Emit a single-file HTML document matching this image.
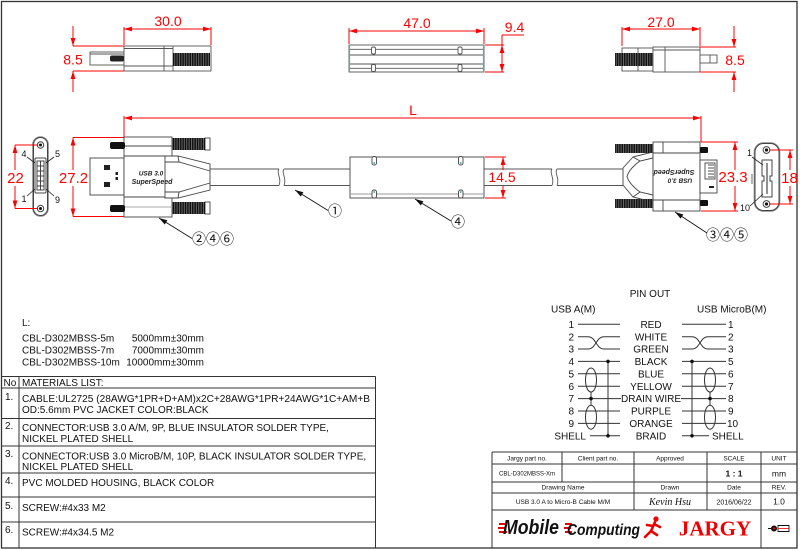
<!DOCTYPE html>
<html><head><meta charset="utf-8"><style>
html,body{margin:0;padding:0;background:#fff;}
svg{display:block;}
text{font-family:"Liberation Sans",Arial,sans-serif;}
.r{fill:#f00;font-size:14px;}
.c{font-family:"Liberation Sans","Noto Sans CJK JP",sans-serif;font-size:14px;fill:#111;}
</style></head><body>
<svg width="800" height="550" viewBox="0 0 800 550" xmlns="http://www.w3.org/2000/svg">
<defs>
<marker id="ar" viewBox="0 0 10 6" refX="10" refY="3" markerWidth="8" markerHeight="5" markerUnits="userSpaceOnUse" orient="auto-start-reverse"><path d="M0,0L10,3L0,6z" fill="#f00"/></marker>
<marker id="ak" viewBox="0 0 10 6" refX="10" refY="3" markerWidth="9" markerHeight="5" markerUnits="userSpaceOnUse" orient="auto"><path d="M0,0L10,3L0,6z" fill="#111"/></marker>
<pattern id="th" width="2.4" height="20" patternUnits="userSpaceOnUse"><rect width="2.4" height="20" fill="#111"/><rect x="1.6" width="0.6" height="20" fill="#999"/></pattern>
</defs>
<rect width="800" height="550" fill="#fff"/>
<rect x="1.5" y="1.5" width="795.5" height="546.5" fill="none" stroke="#333" stroke-width="1.3"/>

<!-- ============ TOP LEFT VIEW ============ -->
<g stroke="#555" stroke-width="0.9" fill="#fff">
<rect x="90" y="52" width="34" height="13"/>
<line x1="90" y1="54" x2="124" y2="54"/>
<rect x="124" y="46" width="87" height="25"/>
<line x1="124" y1="48.5" x2="173" y2="48.5"/>
<line x1="124" y1="66" x2="173" y2="66"/>
<line x1="164" y1="46" x2="164" y2="71"/>
<line x1="173" y1="46" x2="173" y2="71"/>
</g>
<rect x="110" y="55.5" width="14" height="6" rx="2" fill="#222"/>
<rect x="173" y="53" width="37" height="13" fill="url(#th)"/>
<g stroke="#f00" stroke-width="1" fill="none">
<line x1="124" y1="27" x2="124" y2="45"/>
<line x1="211" y1="27" x2="211" y2="45"/>
<line x1="124" y1="29" x2="211" y2="29" marker-start="url(#ar)" marker-end="url(#ar)"/>
<line x1="73" y1="46" x2="124" y2="46"/>
<line x1="73" y1="71" x2="124" y2="71"/>
<line x1="73" y1="26" x2="73" y2="46" marker-end="url(#ar)"/>
<line x1="73" y1="92" x2="73" y2="71" marker-end="url(#ar)"/>
</g>
<text class="r" x="168" y="26" text-anchor="middle">30.0</text>
<text class="r" x="73" y="64.5" text-anchor="middle">8.5</text>

<!-- ============ TOP MIDDLE VIEW ============ -->
<g stroke="#555" stroke-width="0.9" fill="#fff">
<rect x="349" y="45" width="135" height="27"/>
<line x1="349" y1="49.3" x2="484" y2="49.3"/>
<line x1="349" y1="55" x2="484" y2="55"/>
<line x1="349" y1="64" x2="484" y2="64"/>
<line x1="349" y1="68.3" x2="484" y2="68.3"/>
<rect x="371.5" y="47" width="4" height="7" rx="1.5"/>
<rect x="458" y="47" width="4" height="7" rx="1.5"/>
<rect x="371.5" y="64.5" width="4" height="7" rx="1.5"/>
<rect x="458" y="64.5" width="4" height="7" rx="1.5"/>
</g>
<line x1="349.5" y1="45" x2="349.5" y2="72" stroke="#5aa" stroke-width="1.2"/>
<line x1="483.5" y1="45" x2="483.5" y2="72" stroke="#5aa" stroke-width="1.2"/>
<g stroke="#f00" stroke-width="1" fill="none">
<line x1="349" y1="28" x2="349" y2="44"/>
<line x1="484" y1="28" x2="484" y2="44"/>
<line x1="349" y1="31" x2="484" y2="31" marker-start="url(#ar)" marker-end="url(#ar)"/>
<line x1="485" y1="45" x2="504" y2="45"/>
<line x1="485" y1="72" x2="504" y2="72"/>
<line x1="502" y1="35" x2="502" y2="45"/>
<line x1="502" y1="45" x2="502" y2="72" marker-start="url(#ar)" marker-end="url(#ar)"/>
<line x1="502" y1="35" x2="524" y2="35"/>
</g>
<text class="r" x="417" y="28" text-anchor="middle">47.0</text>
<text class="r" x="514.5" y="32" text-anchor="middle">9.4</text>

<!-- ============ TOP RIGHT VIEW ============ -->
<g stroke="#555" stroke-width="0.9" fill="#fff">
<rect x="622" y="48" width="31" height="23"/>
<line x1="638" y1="48" x2="638" y2="71"/>
<rect x="653" y="47" width="47" height="25"/>
<line x1="665" y1="47" x2="665" y2="72"/>
<line x1="653" y1="50" x2="700" y2="50"/>
<rect x="700" y="55" width="17" height="8"/>
<line x1="710" y1="55" x2="710" y2="63"/>
</g>
<rect x="615" y="53" width="38" height="13" fill="url(#th)"/>
<g stroke="#f00" stroke-width="1" fill="none">
<line x1="622" y1="27" x2="622" y2="46"/>
<line x1="700" y1="27" x2="700" y2="46"/>
<line x1="622" y1="29" x2="700" y2="29" marker-start="url(#ar)" marker-end="url(#ar)"/>
<line x1="700" y1="47" x2="736" y2="47"/>
<line x1="700" y1="72" x2="736" y2="72"/>
<line x1="734" y1="26" x2="734" y2="47" marker-end="url(#ar)"/>
<line x1="734" y1="92" x2="734" y2="72" marker-end="url(#ar)"/>
</g>
<text class="r" x="661" y="27" text-anchor="middle">27.0</text>
<text class="r" x="735" y="65" text-anchor="middle">8.5</text>

<!-- ============ L DIMENSION ============ -->
<g stroke="#f00" stroke-width="1" fill="none">
<line x1="124" y1="118" x2="701" y2="118" marker-start="url(#ar)" marker-end="url(#ar)"/>
<line x1="124" y1="116" x2="124" y2="137"/>
<line x1="701" y1="116" x2="701" y2="142"/>
</g>
<text class="r" x="413" y="115" text-anchor="middle">L</text>

<!-- ============ LEFT END VIEW (USB A) ============ -->
<g stroke="#444" stroke-width="1" fill="#fff">
<rect x="33" y="137" width="15" height="79" rx="7.5" stroke="#888" stroke-width="1.6"/>
<rect x="33.5" y="137.5" width="14" height="78" rx="7"/>
<circle cx="40.5" cy="145" r="3.2"/>
<circle cx="40.5" cy="208.5" r="3.2"/>
<rect x="35" y="158" width="11" height="35" rx="1"/>
<rect x="37" y="161" width="7" height="29"/>
<line x1="37" y1="166" x2="44" y2="166"/>
<line x1="37" y1="171" x2="44" y2="171"/>
<line x1="37" y1="176" x2="44" y2="176"/>
<line x1="37" y1="181" x2="44" y2="181"/>
<line x1="37" y1="186" x2="44" y2="186"/>
<line x1="40.5" y1="161" x2="40.5" y2="190"/>
</g>
<circle cx="40.5" cy="145" r="1.5" fill="#111"/>
<circle cx="40.5" cy="208.5" r="1.5" fill="#111"/>
<g stroke="#222" stroke-width="0.8">
<line x1="27" y1="157" x2="35" y2="163"/>
<line x1="54" y1="157" x2="46" y2="163"/>
<line x1="27" y1="196" x2="35" y2="189"/>
<line x1="54" y1="196" x2="46" y2="189"/>
</g>
<g font-size="9" fill="#111">
<text x="21.5" y="157">4</text>
<text x="55" y="157">5</text>
<text x="21.5" y="202">1</text>
<text x="55" y="203">9</text>
</g>
<g stroke="#f00" stroke-width="1" fill="none">
<line x1="15" y1="145" x2="38" y2="145"/>
<line x1="15" y1="208.5" x2="38" y2="208.5"/>
<line x1="15" y1="170" x2="15" y2="145" marker-end="url(#ar)"/>
<line x1="15" y1="186" x2="15" y2="208.5" marker-end="url(#ar)"/>
<line x1="73" y1="137.5" x2="124" y2="137.5"/>
<line x1="73" y1="216.5" x2="124" y2="216.5"/>
<line x1="73" y1="170" x2="73" y2="137.5" marker-end="url(#ar)"/>
<line x1="73" y1="186" x2="73" y2="216.5" marker-end="url(#ar)"/>
</g>
<text class="r" x="15.5" y="183" text-anchor="middle" font-size="15" style="font-size:15px">22</text>
<text class="r" x="73.5" y="183" text-anchor="middle" style="font-size:15px">27.2</text>

<!-- ============ LEFT CONNECTOR ============ -->
<g stroke="#444" stroke-width="0.9" fill="#fff">
<rect x="90" y="158" width="34" height="37"/>
<rect x="124" y="137" width="48" height="80"/>
<line x1="124" y1="146" x2="172" y2="146"/>
<line x1="124" y1="156" x2="172" y2="156"/>
<line x1="124" y1="197" x2="172" y2="197"/>
<line x1="124" y1="207" x2="172" y2="207" stroke="#aaa"/>
<polygon points="165,156 178,156 210,164 210,190 178,198 165,198"/>
<path d="M165,162 L179,162 L210,171 M165,192 L179,192 L210,183" fill="none"/>
<line x1="178" y1="156" x2="179" y2="162"/>
<line x1="178" y1="198" x2="179" y2="192"/>
<rect x="205" y="138" width="5" height="12" />
<rect x="205" y="202" width="5" height="12" />
</g>
<rect x="124.5" y="162.5" width="40" height="29" fill="#fff"/>
<rect x="172" y="138" width="33" height="12" fill="url(#th)"/>
<rect x="172" y="202" width="33" height="12" fill="url(#th)"/>
<rect x="110" y="142" width="15" height="7" rx="2" fill="#111"/>
<rect x="110" y="205" width="15" height="7" rx="2" fill="#111"/>
<rect x="104" y="165" width="6" height="5" fill="#222"/>
<rect x="104" y="182" width="6" height="5" fill="#222"/>
<rect x="115.5" y="172" width="2.5" height="3" fill="#222"/>
<rect x="115.5" y="177" width="2.5" height="3" fill="#222"/>
<text x="151" y="175.5" font-size="6.5" font-weight="bold" font-style="italic" fill="#222" text-anchor="middle">USB 3.0</text>
<text x="152" y="184" font-size="7" font-weight="bold" font-style="italic" fill="#222" text-anchor="middle">SuperSpeed</text>

<!-- ============ CABLE ============ -->
<g stroke="#555" stroke-width="0.9" fill="none">
<path d="M210,169 H279 M210,185.5 H279"/>
<path d="M279,169 c-3,4 3,9 0,16.5"/>
<path d="M284,169 c-3,4 3,9 0,16.5"/>
<path d="M284,169 H350 M284,185.5 H350"/>
<path d="M484,169 H552 M484,185.5 H552"/>
<path d="M552,169 c-3,4 3,9 0,16.5"/>
<path d="M557,169 c-3,4 3,9 0,16.5"/>
<path d="M557,169 H623 M557,185.5 H623"/>
</g>

<!-- ============ MOLDED HOUSING ============ -->
<g stroke="#444" stroke-width="0.9" fill="#fff">
<rect x="350" y="157" width="134" height="41"/>
<line x1="350" y1="194" x2="484" y2="194" stroke="#999"/>
<rect x="372" y="156.5" width="4.5" height="8.5" rx="2"/>
<rect x="458.5" y="156.5" width="4.5" height="8.5" rx="2"/>
<rect x="372" y="190" width="4.5" height="8" rx="2"/>
<rect x="458.5" y="190" width="4.5" height="8" rx="2"/>
</g>
<g fill="#5aa"><circle cx="374.2" cy="163" r="1"/><circle cx="460.7" cy="163" r="1"/><circle cx="374.2" cy="192" r="1"/><circle cx="460.7" cy="192" r="1"/></g>
<g stroke="#f00" stroke-width="1" fill="none">
<line x1="485" y1="157" x2="506" y2="157"/>
<line x1="485" y1="198" x2="506" y2="198"/>
<line x1="503" y1="170" x2="503" y2="157" marker-end="url(#ar)"/>
<line x1="503" y1="186" x2="503" y2="198" marker-end="url(#ar)"/>
</g>
<text class="r" x="502" y="182" text-anchor="middle">14.5</text>

<!-- ============ RIGHT CONNECTOR ============ -->
<g stroke="#444" stroke-width="0.9" fill="#fff">
<polygon points="623,168 633,157 653,152 653,202 633,197 623,185"/>
<path d="M653,158 L640,161 Q629,169 627,176.5 Q629,184 640,192 L653,195" fill="none"/>
<line x1="633" y1="157" x2="640" y2="161"/>
<line x1="633" y1="197" x2="640" y2="192"/>
<rect x="653" y="142" width="47" height="69"/>
<line x1="653" y1="153" x2="700" y2="153"/>
<line x1="653" y1="200" x2="700" y2="200"/>
<line x1="663" y1="142" x2="663" y2="153"/>
<line x1="663" y1="200" x2="663" y2="211"/>
<rect x="700" y="160" width="17" height="33"/>
<rect x="705" y="163" width="10" height="16"/>
</g>
<rect x="615" y="144" width="38" height="9" fill="url(#th)"/>
<rect x="615" y="199" width="38" height="9" fill="url(#th)"/>
<rect x="700" y="147" width="8" height="6" rx="1" fill="#111"/>
<rect x="700" y="200" width="8" height="6" rx="1" fill="#111"/>
<g stroke="#222" stroke-width="0.8">
<line x1="708" y1="165" x2="714" y2="165"/><line x1="708" y1="168" x2="714" y2="168"/>
<line x1="708" y1="171" x2="714" y2="171"/><line x1="708" y1="174" x2="714" y2="174"/>
<line x1="708" y1="177" x2="714" y2="177"/>
</g>
<rect x="709" y="186" width="5" height="2" fill="#222"/>
<g transform="rotate(180 676 177)">
<text x="672" y="175.5" font-size="6.5" font-weight="bold" font-style="italic" fill="#222" text-anchor="middle">USB 3.0</text>
<text x="678" y="184" font-size="7" font-weight="bold" font-style="italic" fill="#222" text-anchor="middle">SuperSpeed</text>
</g>
<g stroke="#f00" stroke-width="1" fill="none">
<line x1="701" y1="142" x2="738" y2="142"/>
<line x1="701" y1="211" x2="738" y2="211"/>
<line x1="735" y1="170" x2="735" y2="142" marker-end="url(#ar)"/>
<line x1="735" y1="186" x2="735" y2="211" marker-end="url(#ar)"/>
</g>
<text class="r" x="733" y="182" text-anchor="middle" style="font-size:15px">23.3</text>

<!-- ============ RIGHT END VIEW (MICRO B) ============ -->
<g stroke="#444" stroke-width="1" fill="#fff">
<rect x="754.5" y="143" width="25" height="68" rx="9" stroke="#888" stroke-width="1.6"/>
<rect x="755" y="143.5" width="24" height="67" rx="8.5"/>
<circle cx="766.5" cy="150" r="3.4"/>
<circle cx="766.5" cy="204" r="3.4"/>
<path d="M762,160 H772 V176 H770 V181 H772 V197 H762 V181 H764 V176 H762 Z"/>
<line x1="767" y1="163" x2="767" y2="194" stroke="#222"/>
</g>
<circle cx="766.5" cy="150" r="1.6" fill="#111"/>
<circle cx="766.5" cy="204" r="1.6" fill="#111"/>
<line x1="752" y1="174" x2="752" y2="184" stroke="#444" stroke-width="0.8"/>
<g stroke="#222" stroke-width="0.8">
<line x1="752" y1="157" x2="763" y2="165"/>
<line x1="750" y1="206" x2="763" y2="194"/>
</g>
<text x="747" y="156" font-size="9" fill="#111">1</text>
<text x="740" y="211" font-size="9" fill="#111">10</text>
<g stroke="#f00" stroke-width="1" fill="none">
<line x1="769" y1="150" x2="793" y2="150"/>
<line x1="769" y1="204" x2="793" y2="204"/>
<line x1="790" y1="170" x2="790" y2="150" marker-end="url(#ar)"/>
<line x1="790" y1="186" x2="790" y2="204" marker-end="url(#ar)"/>
</g>
<text class="r" x="789.5" y="183" text-anchor="middle" style="font-size:15px">18</text>

<!-- ============ LEADERS ============ -->
<g stroke="#111" stroke-width="0.9" fill="none">
<line x1="192" y1="238.5" x2="159" y2="218" marker-end="url(#ak)"/>
<line x1="328" y1="210.5" x2="295" y2="190" marker-end="url(#ak)"/>
<line x1="451" y1="221" x2="415" y2="199" marker-end="url(#ak)"/>
<line x1="707" y1="233" x2="675" y2="212" marker-end="url(#ak)"/>
</g>
<text class="c" x="192" y="244">②④⑥</text>
<text class="c" x="328" y="216">①</text>
<text class="c" x="451" y="227">④</text>
<text class="c" x="706" y="240">③④⑤</text>

<!-- ============ L LIST ============ -->
<g font-size="10" fill="#111">
<text x="22" y="326">L:</text>
<text x="22" y="341.5">CBL-D302MBSS-5m</text>
<text x="204" y="341.5" text-anchor="end">5000mm±30mm</text>
<text x="22" y="353.5">CBL-D302MBSS-7m</text>
<text x="204" y="353.5" text-anchor="end">7000mm±30mm</text>
<text x="22" y="365.5">CBL-D302MBSS-10m</text>
<text x="204" y="365.5" text-anchor="end">10000mm±30mm</text>
</g>

<!-- ============ MATERIALS TABLE ============ -->
<g stroke="#333" stroke-width="1" fill="none">
<line x1="1.5" y1="376.5" x2="375.5" y2="376.5"/>
<line x1="1.5" y1="388" x2="375.5" y2="388"/>
<line x1="1.5" y1="418.5" x2="375.5" y2="418.5"/>
<line x1="1.5" y1="446" x2="375.5" y2="446"/>
<line x1="1.5" y1="473" x2="375.5" y2="473"/>
<line x1="1.5" y1="497" x2="375.5" y2="497"/>
<line x1="1.5" y1="522" x2="375.5" y2="522"/>
<line x1="375.5" y1="376.5" x2="375.5" y2="548"/>
<line x1="19" y1="376.5" x2="19" y2="548"/>
</g>
<g font-size="10" fill="#111">
<text x="3.5" y="386">No</text>
<text x="22" y="386">MATERIALS LIST:</text>
<text x="5" y="400">1.</text>
<text x="22" y="402" textLength="348" lengthAdjust="spacingAndGlyphs">CABLE:UL2725 (28AWG*1PR+D+AM)x2C+28AWG*1PR+24AWG*1C+AM+B</text>
<text x="22" y="413">OD:5.6mm  PVC JACKET COLOR:BLACK</text>
<text x="5" y="429">2.</text>
<text x="22" y="431">CONNECTOR:USB 3.0 A/M, 9P, BLUE INSULATOR SOLDER TYPE,</text>
<text x="22" y="442">NICKEL PLATED SHELL</text>
<text x="5" y="457">3.</text>
<text x="22" y="459.5">CONNECTOR:USB 3.0 MicroB/M, 10P, BLACK INSULATOR SOLDER TYPE,</text>
<text x="22" y="470">NICKEL PLATED SHELL</text>
<text x="5" y="484">4.</text>
<text x="22" y="486">PVC MOLDED HOUSING, BLACK COLOR</text>
<text x="5" y="509">5.</text>
<text x="22" y="511">SCREW:#4x33 M2</text>
<text x="5" y="533">6.</text>
<text x="22" y="535.5">SCREW:#4x34.5 M2</text>
</g>

<!-- ============ PIN OUT ============ -->
<g font-size="10" fill="#111">
<text x="650" y="297" text-anchor="middle">PIN OUT</text>
<text x="551" y="312.5">USB A(M)</text>
<text x="697" y="312.5">USB MicroB(M)</text>
<g text-anchor="end">
<text x="574" y="327.9">1</text><text x="574" y="340.3">2</text><text x="574" y="352.6">3</text>
<text x="574" y="365">4</text><text x="574" y="377.4">5</text><text x="574" y="389.8">6</text>
<text x="574" y="402.2">7</text><text x="574" y="414.6">8</text><text x="574" y="427">9</text>
<text x="586" y="439.4">SHELL</text>
</g>
<g text-anchor="middle">
<text x="651" y="327.9">RED</text><text x="651" y="340.3">WHITE</text><text x="651" y="352.6">GREEN</text>
<text x="651" y="365">BLACK</text><text x="651" y="377.4">BLUE</text><text x="651" y="389.8">YELLOW</text>
<text x="651" y="402.2">DRAIN WIRE</text><text x="651" y="414.6">PURPLE</text><text x="651" y="427">ORANGE</text>
<text x="651" y="439.4">BRAID</text>
</g>
<g>
<text x="728" y="327.9">1</text><text x="728" y="340.3">2</text><text x="728" y="352.6">3</text>
<text x="728" y="365">5</text><text x="728" y="377.4">6</text><text x="728" y="389.8">7</text>
<text x="728" y="402.2">8</text><text x="728" y="414.6">9</text><text x="727" y="427">10</text>
<text x="712" y="439.4">SHELL</text>
</g>
</g>
<g stroke="#333" stroke-width="1" fill="none">
<line x1="578" y1="324.3" x2="620" y2="324.3"/>
<path d="M578,336.7 H588 C596,336.7 596,349 604,349 H620"/>
<path d="M578,349 H588 C596,349 596,336.7 604,336.7 H620"/>
<line x1="578" y1="361.4" x2="620" y2="361.4"/>
<line x1="578" y1="373.8" x2="620" y2="373.8"/>
<line x1="578" y1="386.2" x2="620" y2="386.2"/>
<line x1="578" y1="398.6" x2="621" y2="398.6"/>
<line x1="578" y1="411" x2="620" y2="411"/>
<line x1="578" y1="423.4" x2="620" y2="423.4"/>
<line x1="590" y1="435.8" x2="620" y2="435.8"/>
<line x1="608" y1="361.4" x2="608" y2="435.8"/>
<ellipse cx="591" cy="380" rx="5.5" ry="12"/>
<ellipse cx="591" cy="417.2" rx="5.5" ry="12"/>
<line x1="591" y1="392" x2="591" y2="405.2"/>

<line x1="682" y1="324.3" x2="726" y2="324.3"/>
<path d="M682,336.7 H692 C700,336.7 700,349 708,349 H726"/>
<path d="M682,349 H692 C700,349 700,336.7 708,336.7 H726"/>
<line x1="682" y1="361.4" x2="726" y2="361.4"/>
<line x1="682" y1="373.8" x2="726" y2="373.8"/>
<line x1="682" y1="386.2" x2="726" y2="386.2"/>
<line x1="681" y1="398.6" x2="726" y2="398.6"/>
<line x1="682" y1="411" x2="726" y2="411"/>
<line x1="682" y1="423.4" x2="726" y2="423.4"/>
<line x1="682" y1="435.8" x2="709" y2="435.8"/>
<line x1="692" y1="361.4" x2="692" y2="435.8"/>
<ellipse cx="710" cy="380" rx="5.5" ry="12"/>
<ellipse cx="710" cy="417.2" rx="5.5" ry="12"/>
<line x1="710" y1="392" x2="710" y2="405.2"/>
</g>
<g fill="#111">
<circle cx="608" cy="361.4" r="1.8"/><circle cx="608" cy="435.8" r="1.8"/><circle cx="591" cy="398.6" r="1.8"/>
<circle cx="692" cy="361.4" r="1.8"/><circle cx="692" cy="435.8" r="1.8"/><circle cx="710" cy="398.6" r="1.8"/>
</g>

<!-- ============ TITLE BLOCK ============ -->
<g stroke="#333" stroke-width="1" fill="none">
<line x1="492" y1="452" x2="797" y2="452"/>
<line x1="492" y1="452" x2="492" y2="548"/>
<line x1="492" y1="464" x2="797" y2="464"/>
<line x1="492" y1="482" x2="797" y2="482"/>
<line x1="492" y1="493" x2="797" y2="493"/>
<line x1="492" y1="510" x2="797" y2="510"/>
<line x1="562" y1="452" x2="562" y2="482"/>
<line x1="634" y1="452" x2="634" y2="510"/>
<line x1="707" y1="452" x2="707" y2="510"/>
<line x1="761" y1="452" x2="761" y2="548"/>
</g>
<g font-size="6.5" fill="#111" text-anchor="middle">
<text x="527" y="460.5">Jargy part no.</text>
<text x="598" y="460.5">Client part no.</text>
<text x="670" y="460.5">Approved</text>
<text x="734" y="460.5">SCALE</text>
<text x="779" y="460.5">UNIT</text>
<text x="527" y="475.5" font-size="6">CBL-D302MBSS-Xm</text>
<text x="734" y="476.5" font-size="8.5" font-weight="bold">1 : 1</text>
<text x="779" y="476.5" font-size="8.5">mm</text>
<text x="563" y="489.5">Drawing Name</text>
<text x="670" y="489.5">Drawn</text>
<text x="734" y="489.5">Date</text>
<text x="779" y="489.5">REV.</text>
<text x="563" y="504">USB 3.0 A to Micro-B Cable M/M</text>
<text x="734" y="504.5" font-size="7">2016/06/22</text>
<text x="779" y="504.5" font-size="8.5">1.0</text>
</g>
<text x="670" y="505" font-size="10" font-style="italic" text-anchor="middle" fill="#111" style="font-family:'Liberation Serif',serif">Kevin Hsu</text>

<!-- logo -->
<g fill="#e00">
<rect x="499" y="523" width="8" height="2"/><rect x="498" y="527" width="8" height="2"/><rect x="499" y="531" width="8" height="2"/>
<rect x="565" y="523" width="7" height="2"/><rect x="564" y="527" width="7" height="2"/><rect x="565" y="531" width="7" height="2"/>
</g>
<text x="503" y="536" font-size="17" font-weight="bold" font-style="italic" fill="#111" transform="translate(0,-120) scale(1,1.22)" textLength="56" lengthAdjust="spacingAndGlyphs">Mobile</text>
<text x="567" y="535" font-size="14" font-weight="bold" font-style="italic" fill="#111" transform="translate(0,-80) scale(1,1.15)" textLength="73" lengthAdjust="spacingAndGlyphs">Computing</text>
<g fill="#e00" stroke="#e00">
<circle cx="656" cy="519" r="2.6" stroke="none"/>
<path d="M655,522 L651,531 M653,526 L647,525 M654,524 L660,527 M651,531 L657,535 M651,531 L645,537" stroke-width="2.6" stroke-linecap="round" fill="none"/>
</g>
<text x="715" y="535.5" font-size="21" font-weight="bold" fill="#e00" text-anchor="middle" style="font-family:'Liberation Serif',serif">JARGY</text>
<g>
<circle cx="774" cy="528.5" r="3" fill="#111"/>
<circle cx="774" cy="528.5" r="1.2" fill="#e00"/>
<line x1="768" y1="528.5" x2="771" y2="528.5" stroke="#111" stroke-width="1"/>
<path d="M778,525.5 H789 V531.5 H778 Z" fill="none" stroke="#111" stroke-width="0.9"/>
<line x1="778" y1="528.5" x2="789" y2="528.5" stroke="#e00" stroke-width="0.8"/>
</g>
</svg>
</body></html>
